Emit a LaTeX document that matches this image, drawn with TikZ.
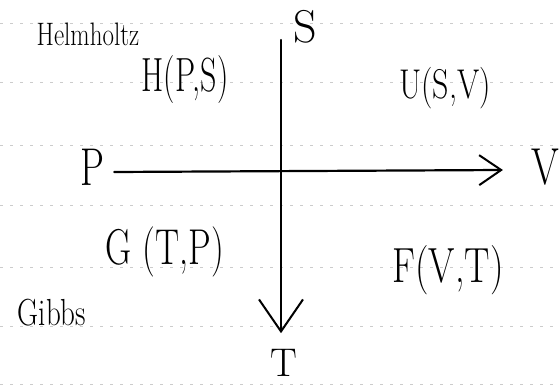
\documentclass[tikz,border=0pt]{standalone}
\usetikzlibrary{arrows.meta}
\newcommand{\hw}[2]{\scalebox{1}[#1]{#2}}
\begin{document}
\begin{tikzpicture}[x=1pt,y=-1pt,
  rule/.style={gray!40,line width=0.6pt,dash pattern=on 3pt off 7pt},
  lbl/.style={inner sep=0pt,anchor=center},
  axis/.style={line width=2.2pt,line cap=round}]
\useasboundingbox[fill=white] (0,0) rectangle (559,387);
% ruled lines of the paper
\foreach \yy in {23,82,145,205,267,326,384}
  \draw[rule] (0,\yy) -- (559,\yy);
% labels
\node[lbl,font=\fontsize{25}{25}\selectfont] (helm) at (88,34) {\hw{1.3}{Helmholtz}};
\node[lbl,font=\fontsize{32}{32}\selectfont] (H) at (185,80) {\hw{1.5}{H(P,S)}};
\node[lbl,font=\fontsize{46}{46}\selectfont] (S) at (305,27) {S};
\node[lbl,font=\fontsize{32}{32}\selectfont] (U) at (445,88) {\hw{1.3}{U(S,V)}};
\node[lbl,font=\fontsize{38}{38}\selectfont] (P) at (92,167) {\hw{1.4}{P}};
\node[lbl,font=\fontsize{40}{40}\selectfont] (V) at (545,167) {\hw{1.3}{V}};
\node[lbl,font=\fontsize{36}{36}\selectfont] (G) at (165,252) {\hw{1.4}{G (T,P)}};
\node[lbl,font=\fontsize{38}{38}\selectfont] (F) at (448,270) {\hw{1.3}{F(V,T)}};
\node[lbl,font=\fontsize{29}{29}\selectfont] (gibbs) at (52,313) {\hw{1.3}{Gibbs}};
\node[lbl,font=\fontsize{40}{40}\selectfont] (T) at (284,363) {T};
% axes
\coordinate (top) at (281,40);
\draw[axis,-{Straight Barb[length=22pt,width=30pt,line width=2pt]}]
  (P.east) ++(10,5) coordinate (pstart) -- ([xshift=-28pt,yshift=-3pt]V.west);
\draw[axis,-{Straight Barb[length=32pt,width=44pt,line width=2pt]}]
  (top) -- (top |- T.north) [shorten >=16pt];
\end{tikzpicture}
\end{document}
